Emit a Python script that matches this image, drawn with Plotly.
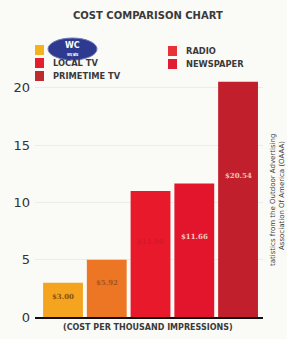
import plotly.graph_objects as go

# ---- data ----
categories = ["OUTDOOR", "LOCAL TV", "PRIMETIME TV", "RADIO", "NEWSPAPER"]
values = [3.0, 5.0, 11.0, 11.66, 20.54]
bar_labels = ["$3.00", "$5.92", "$11.00", "$11.66", "$20.54"]
legend_names = ["", "LOCAL TV", "PRIMETIME TV", "RADIO", "NEWSPAPER"]
y_ticks = [0, 5, 10, 15, 20]

# ---- styles ----
W, H = 287, 339
ML, MR, MT, MB = 35, 24, 81, 22
bar_colors = ["#F4A41E", "#EC7624", "#E8192B", "#E3152C", "#C11F2B"]
label_colors = ["#8C4F12", "#A9521A", "#D3182A", "#F7C9C2", "#F2C2BE"]
legend_colors = ["#F4B21C", "#E41E2C", "#BF2A2E", "#E83238", "#E31C36"]
text_col = "#3a3a3a"
font_main = "DejaVu Sans, sans-serif"


def px(x):
    return (x - ML) / (W - ML - MR)


def py(y):
    return (H - MB - y) / (H - MT - MB)


def note(x, y, text, size, color=text_col, angle=0, xanchor="center", family=font_main):
    fig.add_annotation(xref="paper", yref="paper", x=px(x), y=py(y), text=text,
                       showarrow=False, xanchor=xanchor, yanchor="middle",
                       textangle=angle, font=dict(size=size, color=color, family=family))


fig = go.Figure()
fig.add_trace(go.Bar(
    x=list(range(len(categories))), y=values,
    marker=dict(color=bar_colors, line=dict(width=0)),
    width=0.91, showlegend=False, hoverinfo="skip",
))

# bar value labels
for i, (v, t) in enumerate(zip(values, bar_labels)):
    fig.add_annotation(x=i, y=v * 0.6, text="<b>" + t + "</b>", showarrow=False,
                       xanchor="center", yanchor="middle",
                       font=dict(size=7, color=label_colors[i], family="DejaVu Serif, serif"),
                       xref="x", yref="y")

# manual legend (two columns)
col_x = [35, 35, 35, 168, 168]
row_y = [50, 63, 76, 51, 64]
for i, name in enumerate(legend_names):
    fig.add_shape(type="rect", xref="paper", yref="paper",
                  x0=px(col_x[i]), x1=px(col_x[i] + 9),
                  y0=py(row_y[i] + 5), y1=py(row_y[i] - 5),
                  fillcolor=legend_colors[i], line=dict(width=0))
    if name:
        note(col_x[i] + 16, row_y[i], "<b>" + name + "</b>", 8.3, xanchor="left")

# logo ellipse
fig.add_shape(type="circle", xref="paper", yref="paper",
              x0=px(48), x1=px(97), y0=py(60), y1=py(38),
              fillcolor="#2E3A8F", line=dict(color="#6f78b8", width=1))
note(72.5, 46, "<b>WC</b>", 8, color="white")
note(72.5, 54, "<b>वाद ब्रांड</b>", 4, color="white")

# title
note(148, 15, "<b>COST COMPARISON CHART</b>", 10)

# x axis title
note(148, 327, "<b>(COST PER THOUSAND IMPRESSIONS)</b>", 8)

# rotated source text
note(273, 200, "tatistics from the Outdoor Advertising", 7, angle=-90)
note(282, 196, "Association Of America (OAAA)", 7, angle=-90)

fig.update_layout(
    width=W, height=H,
    margin=dict(l=ML, r=MR, t=MT, b=MB),
    paper_bgcolor="#FAFAF7", plot_bgcolor="#FAFAF7",
    bargap=0.09,
    xaxis=dict(range=[-0.64, 4.57], showticklabels=False, showgrid=False,
               zeroline=False, showline=True, linecolor="#111111", linewidth=1.5,
               fixedrange=True),
    yaxis=dict(range=[0, 20.6], tickvals=y_ticks, showgrid=True, gridcolor="#ECECEA",
               gridwidth=1, zeroline=False, showline=False,
               tickfont=dict(size=13, color="#333333", family=font_main),
               ticklabelstandoff=4, fixedrange=True),
    showlegend=False,
)

fig.write_html(
    "out.html",
    config={"displayModeBar": False},
    post_script="document.body.style.margin='0';document.body.style.overflow='hidden';",
)
